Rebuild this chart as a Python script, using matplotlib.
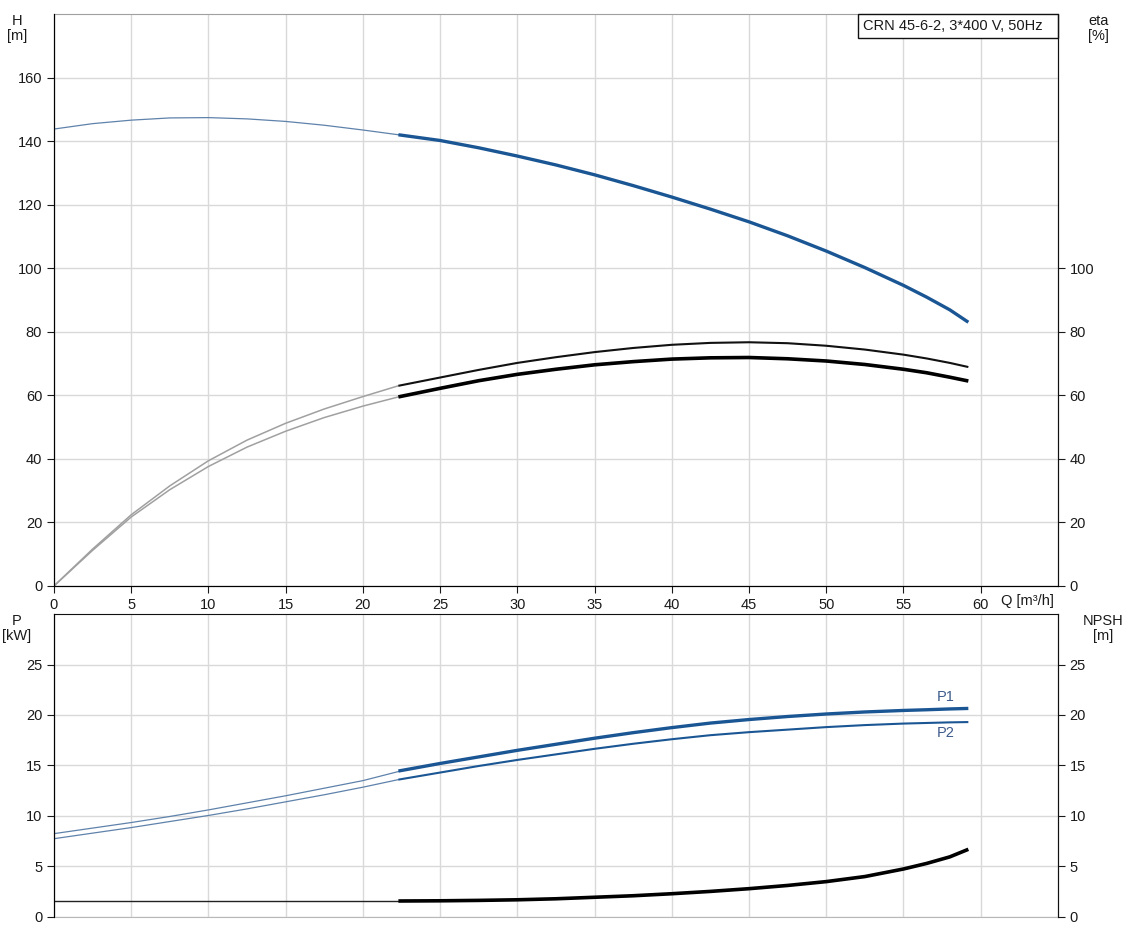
import matplotlib.pyplot as plt
from matplotlib.patches import Rectangle

plt.rcParams['font.family'] = ['Liberation Sans', 'DejaVu Sans']
plt.rcParams['font.size'] = 10.5

# flow points, thin part (outside duty range) and thick part
q_thin = [0, 2.5, 5, 7.5, 10, 12.5, 15, 17.5, 20, 22.3]
q_thick = [22.3, 25, 27.5, 30, 32.5, 35, 37.5, 40, 42.5, 45, 47.5, 50, 52.5,
           55, 56.5, 58, 59.2]

h_thin = [143.8, 145.5, 146.6, 147.3, 147.4, 147.0, 146.2, 145.0, 143.5, 142.0]
h_thick = [142.0, 140.2, 137.9, 135.3, 132.5, 129.4, 126.0, 122.4, 118.6, 114.6,
           110.2, 105.4, 100.2, 94.6, 90.9, 86.9, 83.0]

eta1_thin = [0, 11.6, 22.4, 31.5, 39.4, 45.9, 51.2, 55.7, 59.6, 63.0]
eta1_thick = [63.0, 65.6, 68.0, 70.2, 72.0, 73.6, 74.9, 75.9, 76.5, 76.7,
              76.4, 75.6, 74.4, 72.8, 71.6, 70.2, 68.9]
eta2_thin = [0, 11.2, 21.7, 30.3, 37.6, 43.7, 48.7, 53.0, 56.6, 59.5]
eta2_thick = [59.5, 62.2, 64.6, 66.6, 68.2, 69.6, 70.6, 71.4, 71.8, 71.9,
              71.5, 70.8, 69.7, 68.2, 67.1, 65.7, 64.5]

p1_thin = [8.25, 8.8, 9.35, 9.95, 10.6, 11.3, 12.0, 12.75, 13.5, 14.4]
p1_thick = [14.45, 15.2, 15.85, 16.5, 17.1, 17.7, 18.25, 18.75, 19.2, 19.55,
            19.85, 20.1, 20.3, 20.45, 20.52, 20.6, 20.65]
p2_thin = [7.75, 8.3, 8.85, 9.45, 10.05, 10.7, 11.4, 12.1, 12.85, 13.6]
p2_thick = [13.6, 14.3, 14.95, 15.55, 16.1, 16.65, 17.15, 17.6, 18.0, 18.3,
            18.55, 18.8, 19.0, 19.15, 19.21, 19.27, 19.3]

npsh_thin = [1.58] * len(q_thin)
npsh_thick = [1.58, 1.6, 1.64, 1.7, 1.8, 1.95, 2.1, 2.3, 2.53, 2.8,
              3.12, 3.5, 4.0, 4.75, 5.3, 5.95, 6.7]

blue = '#1b5694'
txt = '#1a1a1a'
grid = '#d9d9d9'

fig = plt.figure(figsize=(11.31, 9.35), dpi=100)
ax = fig.add_axes([0.0477, 0.3733, 0.8877, 0.6117])
bx = fig.add_axes([0.0477, 0.0193, 0.8877, 0.3240])

# ---- top: head and efficiency
ax.plot(q_thin, h_thin, color='#5f82ab', lw=0.9)
ax.plot(q_thick, h_thick, color=blue, lw=2.4, solid_capstyle='butt')
ax.plot(q_thin, eta1_thin, color='#a0a0a0', lw=1.1)
ax.plot(q_thin, eta2_thin, color='#a0a0a0', lw=1.1)
ax.plot(q_thick, eta1_thick, color='#111111', lw=1.5, solid_capstyle='butt')
ax.plot(q_thick, eta2_thick, color='#000000', lw=2.6, solid_capstyle='butt')

ax.set_xlim(0, 65)
ax.set_ylim(0, 180)
ax.set_xticks(range(0, 61, 5))
ax.set_yticks(range(0, 161, 20))
ax.grid(True, color=grid, lw=1)
ax.set_axisbelow(True)
ax.tick_params(colors=txt, labelsize=10.5, length=5, direction='out')
for s in ['left', 'right', 'bottom']:
    ax.spines[s].set_color('#111111')
ax.spines['top'].set_color('#a0a0a0')

ax2 = ax.twinx()
ax2.set_ylim(0, 180)
ax2.set_yticks(range(0, 101, 20))
ax2.tick_params(colors=txt, labelsize=10.5, length=5, direction='out')
ax2.spines['right'].set_color('#111111')
ax2.spines['top'].set_visible(False)

ax.text(-0.037, 1.0, 'H\n[m]', transform=ax.transAxes, ha='center', va='top',
        color=txt, fontsize=10.5, linespacing=1.1)
ax.text(1.04, 1.0, 'eta\n[%]', transform=ax.transAxes, ha='center', va='top',
        color=txt, fontsize=10.5, linespacing=1.1)
ax.text(61.3, -2.5, 'Q [m³/h]', ha='left', va='top', color=txt, fontsize=10.5)

# title box in the upper right corner
ax.add_patch(Rectangle((0.8008, 0.958), 0.1992, 0.042, transform=ax.transAxes,
                       fc='white', ec='#111111', lw=1, zorder=5, clip_on=False))
ax.text(0.806, 0.979, 'CRN 45-6-2, 3*400 V, 50Hz', transform=ax.transAxes,
        ha='left', va='center', color=txt, fontsize=10.5, zorder=6)

# ---- bottom: power and NPSH
bx.plot(q_thin, p1_thin, color='#5f82ab', lw=0.9)
bx.plot(q_thin, p2_thin, color='#5f82ab', lw=0.9)
bx.plot(q_thick, p1_thick, color=blue, lw=2.4, solid_capstyle='butt')
bx.plot(q_thick, p2_thick, color=blue, lw=1.5, solid_capstyle='butt')
bx.plot(q_thin, npsh_thin, color='#222222', lw=1.0)
bx.plot(q_thick, npsh_thick, color='#000000', lw=2.6, solid_capstyle='butt')

bx.text(58.3, p1_thick[-1] + 0.4, 'P1', color='#3d5a8c', ha='right', va='bottom', fontsize=10.5)
bx.text(58.3, p2_thick[-1] - 0.4, 'P2', color='#3d5a8c', ha='right', va='top', fontsize=10.5)

bx.set_xlim(0, 65)
bx.set_ylim(0, 30)
bx.set_xticks(range(0, 61, 5))
bx.set_yticks(range(0, 26, 5))
bx.grid(True, color=grid, lw=1)
bx.set_axisbelow(True)
bx.tick_params(axis='x', length=0, labelbottom=False)
bx.tick_params(axis='y', colors=txt, labelsize=10.5, length=5, direction='out')
bx.spines['left'].set_color('#111111')
bx.spines['top'].set_color('#111111')
bx.spines['bottom'].set_color('#b8b8b8')

bx2 = bx.twinx()
bx2.set_ylim(0, 30)
bx2.set_yticks(range(0, 26, 5))
bx2.tick_params(colors=txt, labelsize=10.5, length=5, direction='out')
bx2.spines['right'].set_color('#111111')
bx2.spines['top'].set_visible(False)
bx2.spines['bottom'].set_visible(False)

bx.text(-0.037, 1.0, 'P\n[kW]', transform=bx.transAxes, ha='center', va='top',
        color=txt, fontsize=10.5, linespacing=1.1)
bx.text(1.045, 1.0, 'NPSH\n[m]', transform=bx.transAxes, ha='center', va='top',
        color=txt, fontsize=10.5, linespacing=1.1)

fig.savefig('out.png', dpi=100)
